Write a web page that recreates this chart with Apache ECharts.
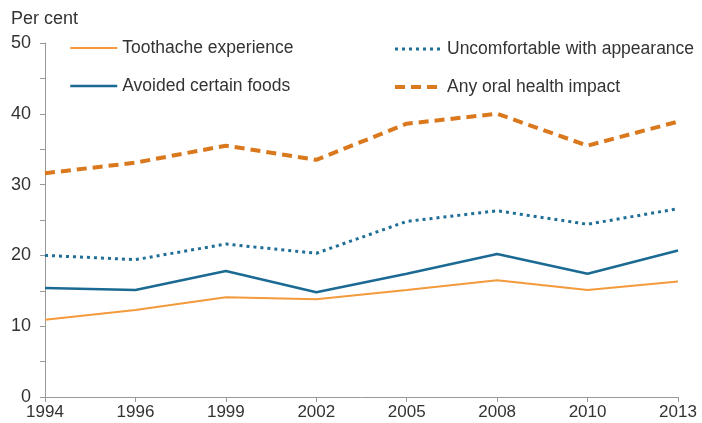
<!DOCTYPE html>
<html><head><meta charset="utf-8">
<script src="https://cdn.jsdelivr.net/npm/echarts@6/dist/echarts.min.js"></script>
<style>html,body{margin:0;padding:0;background:#fff}#c{width:702px;height:423px}</style>
</head><body><div id="c"></div>
<script>
var years = ['1994','1996','1999','2002','2005','2008','2010','2013'];
var toothache = [10.9, 12.3, 14.1, 13.8, 15.1, 16.5, 15.1, 16.3];
var avoided = [15.4, 15.1, 17.8, 14.8, 17.4, 20.2, 17.4, 20.7];
var uncomfortable = [20.0, 19.4, 21.6, 20.3, 24.8, 26.3, 24.4, 26.6];
var anyImpact = [31.6, 33.1, 35.5, 33.5, 38.6, 40.0, 35.5, 38.9];
var yTicks = [0, 10, 20, 30, 40, 50];

var font = 'Liberation Sans, Arial, sans-serif';
var chart = echarts.init(document.getElementById('c'), null, {renderer: 'canvas'});
var legendText = {fontSize: 17.5, color: '#333', fontFamily: font, lineHeight: 20};
chart.setOption({
  animation: false,
  textStyle: {fontFamily: font},
  grid: {left: 45, right: 24, top: 43, bottom: 26, containLabel: false},
  graphic: [{type: 'text', left: 11, top: 10, style: {text: 'Per cent', font: '18px ' + font, fill: '#333'}}],
  legend: [
    {data: ['Toothache experience', 'Avoided certain foods'], orient: 'vertical', left: 69, top: 38,
     padding: 0, itemWidth: 47, itemHeight: 14, itemGap: 18, itemStyle: {opacity: 0},
     lineStyle: {width: 'inherit'}, textStyle: legendText},
    {data: ['Uncomfortable with appearance', 'Any oral health impact'], orient: 'vertical', left: 393, top: 39,
     padding: 0, itemWidth: 47, itemHeight: 14, itemGap: 18, itemStyle: {opacity: 0},
     lineStyle: {width: 'inherit'}, textStyle: legendText}
  ],
  xAxis: {
    type: 'category', data: years, boundaryGap: false,
    axisLine: {lineStyle: {color: '#999', width: 1}},
    axisTick: {show: true, alignWithLabel: true, length: 5, lineStyle: {color: '#999'}},
    axisLabel: {fontSize: 17, color: '#333', margin: 7, fontFamily: font},
    splitLine: {show: false}
  },
  yAxis: {
    type: 'value', min: 0, max: 50, interval: 5,
    axisLine: {show: true, lineStyle: {color: '#999', width: 1}},
    axisTick: {show: true, length: 5, lineStyle: {color: '#999'}},
    axisLabel: {fontSize: 18, color: '#333', margin: 14, fontFamily: font,
      formatter: function (v) { return yTicks.indexOf(v) >= 0 ? String(v) : ''; }},
    splitLine: {show: false}
  },
  series: [
    {name: 'Toothache experience', type: 'line', data: toothache, symbol: 'none',
     itemStyle: {color: '#F39A3C'}, lineStyle: {color: '#F39A3C', width: 2}},
    {name: 'Avoided certain foods', type: 'line', data: avoided, symbol: 'none',
     itemStyle: {color: '#1B6A93'}, lineStyle: {color: '#1B6A93', width: 2.5}},
    {name: 'Uncomfortable with appearance', type: 'line', data: uncomfortable, symbol: 'none',
     itemStyle: {color: '#1F6E96'}, lineStyle: {color: '#1F6E96', width: 3, type: [3, 4]}},
    {name: 'Any oral health impact', type: 'line', data: anyImpact, symbol: 'none',
     itemStyle: {color: '#D9781C'}, lineStyle: {color: '#D9781C', width: 4, type: [10, 6]}}
  ]
});
</script></body></html>
